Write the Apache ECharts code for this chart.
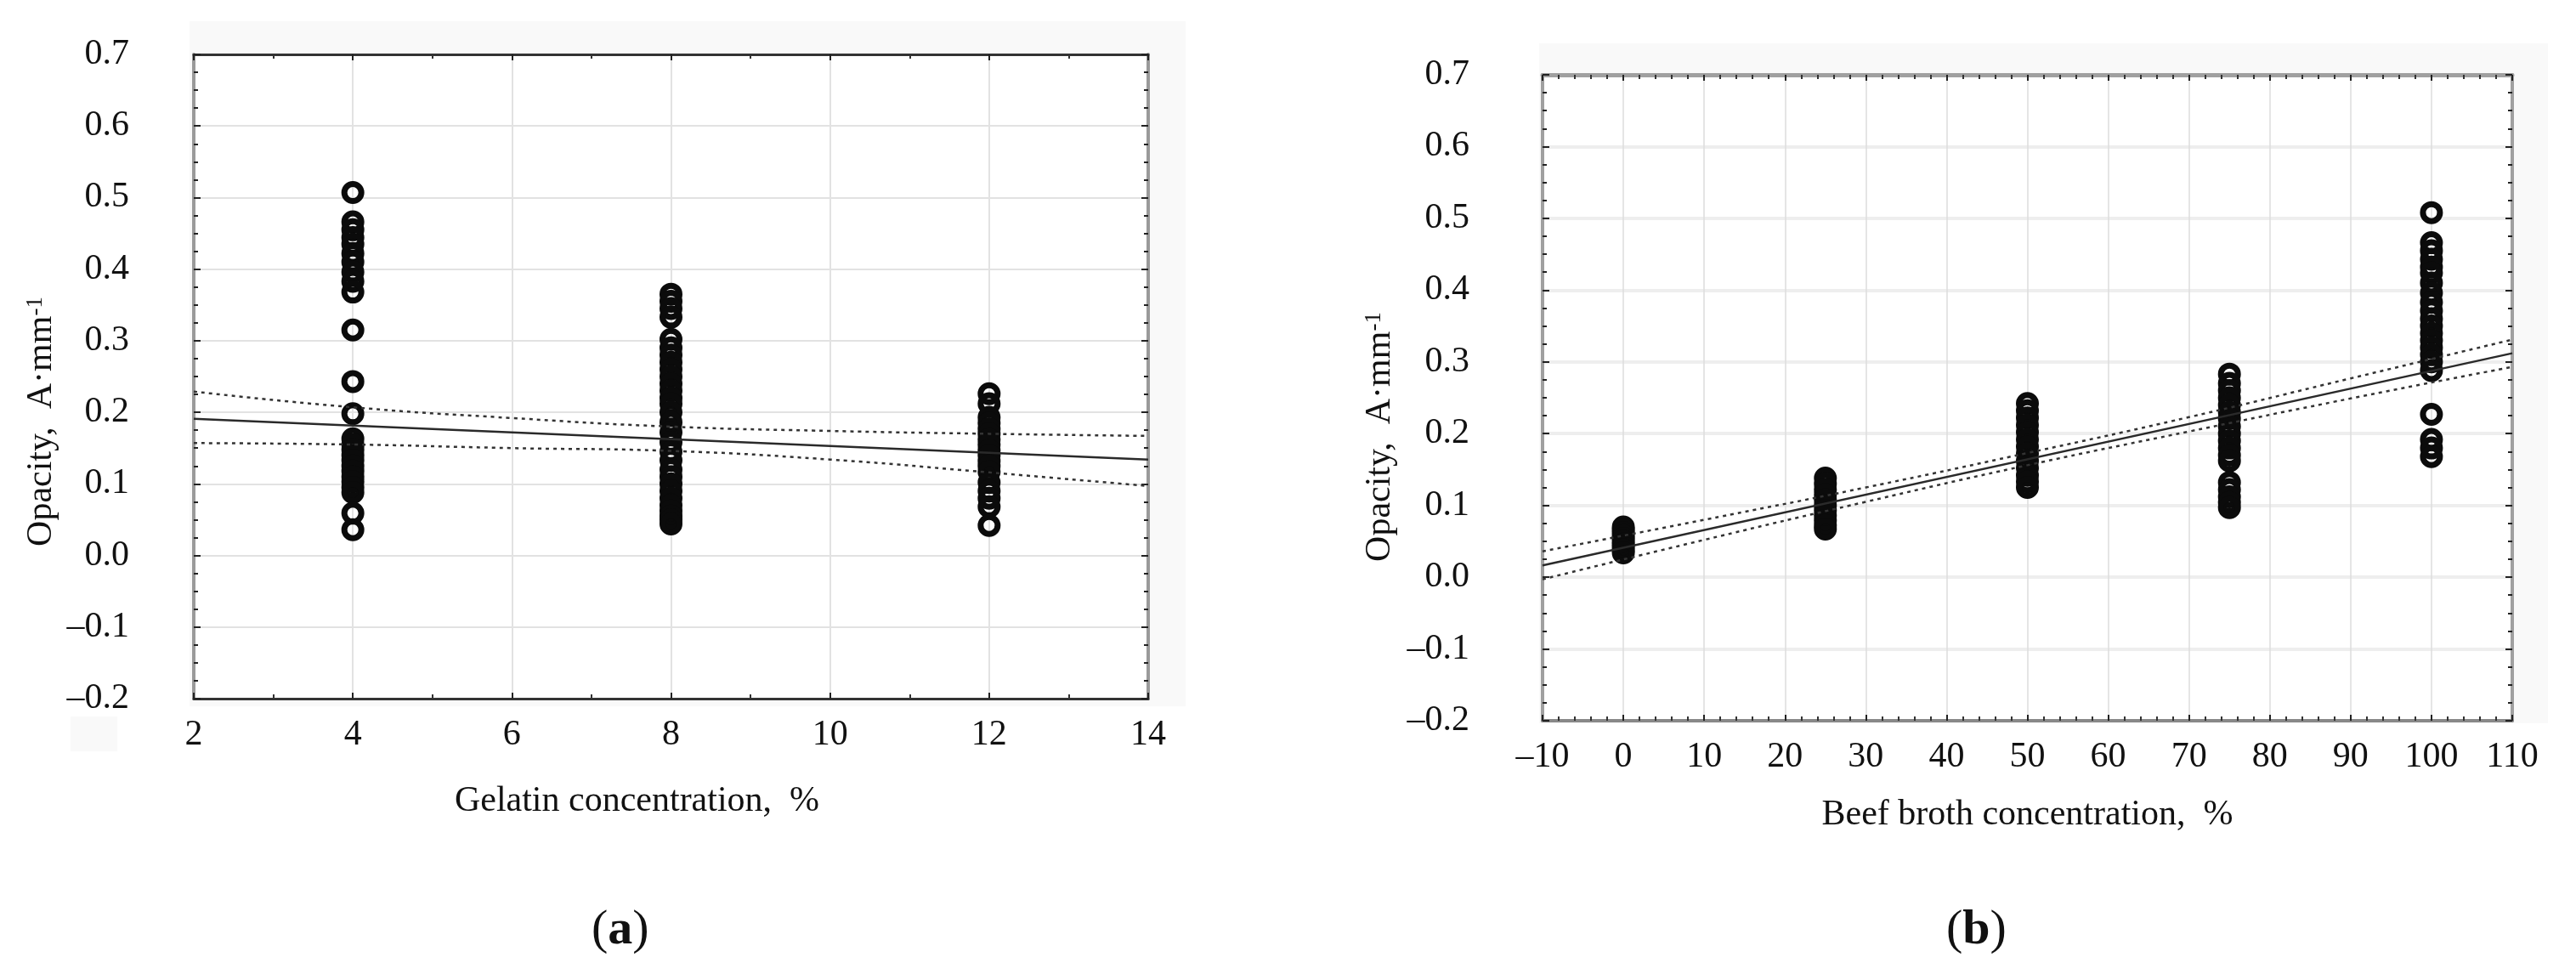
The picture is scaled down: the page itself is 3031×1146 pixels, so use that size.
<!DOCTYPE html>
<html>
<head>
<meta charset="utf-8">
<script src="https://cdn.jsdelivr.net/npm/echarts@6/dist/echarts.min.js"></script>
<style>
html,body{margin:0;padding:0;background:#fff;}
#chart{width:3031px;height:1146px;}
</style>
</head>
<body>
<div id="chart"></div>
<script>
// ---------- DATA ----------
// (a) Gelatin concentration, %  vs  Opacity
const gelatinLevels = [4, 8, 12];
const opacityGel4 = [0.507, 0.466, 0.455, 0.444, 0.435, 0.422, 0.41, 0.396, 0.383, 0.368, 0.315, 0.243, 0.198,
  0.163, 0.155, 0.148, 0.140, 0.133, 0.125, 0.118, 0.110, 0.103, 0.095, 0.088, 0.059, 0.036];
const opacityGel8 = [0.365, 0.355, 0.345, 0.333, 0.302, 0.29, 0.28, 0.27, 0.26, 0.25, 0.24, 0.23, 0.22, 0.212,
  0.2, 0.186, 0.172, 0.158, 0.145, 0.133, 0.12, 0.11, 0.1, 0.09, 0.08, 0.07, 0.062, 0.055, 0.05, 0.044];
const opacityGel12 = [0.226, 0.212, 0.193, 0.185, 0.177, 0.17, 0.162, 0.155, 0.147, 0.14, 0.132, 0.125, 0.117,
  0.102, 0.09, 0.08, 0.068, 0.042];
const gelFitX = [2, 14];
const gelFitY = [0.191, 0.134];
const gelBandX = [2, 4, 6, 8, 10, 12, 14];
const gelUpperY = [0.229, 0.207, 0.192, 0.180, 0.174, 0.170, 0.167];
const gelLowerY = [0.157, 0.155, 0.150, 0.146, 0.134, 0.116, 0.097];

// (b) Beef broth concentration, %  vs  Opacity
const brothLevels = [0, 25, 50, 75, 100];
const opacityBroth0 = [0.07, 0.066, 0.062, 0.058, 0.054, 0.05, 0.046, 0.042, 0.038, 0.034];
const opacityBroth25 = [0.138, 0.13, 0.122, 0.115, 0.108, 0.1, 0.093, 0.086, 0.079, 0.072, 0.067];
const opacityBroth50 = [0.242, 0.232, 0.222, 0.212, 0.202, 0.192, 0.182, 0.172, 0.162, 0.152, 0.142, 0.133, 0.125];
const opacityBroth75 = [0.283, 0.27, 0.26, 0.25, 0.24, 0.23, 0.221, 0.21, 0.2, 0.19, 0.18, 0.17, 0.162,
  0.132, 0.122, 0.112, 0.104, 0.097];
const opacityBroth100 = [0.508, 0.466, 0.455, 0.443, 0.432, 0.424, 0.41, 0.396, 0.383, 0.371, 0.36, 0.35, 0.34,
  0.33, 0.32, 0.31, 0.3, 0.288, 0.227, 0.192, 0.18, 0.168];
const brothFitX = [-10, 110];
const brothFitY = [0.0165, 0.312];
const brothBandX = [-10, 10, 30, 50, 70, 90, 110];
const brothUpperY = [0.036, 0.080, 0.125, 0.173, 0.223, 0.277, 0.331];
const brothLowerY = [-0.003, 0.052, 0.105, 0.156, 0.203, 0.249, 0.293];

// tick settings
const yTicks = {min: -0.2, max: 0.7, step: 0.1};
const gelTicks = {min: 2, max: 14, step: 2};
const brothTicks = {min: -10, max: 110, step: 10};

const yTitleRich = 'Opacity,  A·mm{sup|-1}';
const gelXTitle = 'Gelatin concentration,  %';
const brothXTitle = 'Beef broth concentration,  %';
const panelLabels = ['a', 'b'];

// ---------- helpers ----------
const FONT = 'Liberation Serif';
const dash = v => String(v).replace('-', '\u2013');
const pairs = (x, ys) => ys.map(v => [x, v]);
const zip = (xs, ys) => xs.map((x, i) => [x, ys[i]]);

const gelPoints = [].concat(
  pairs(gelatinLevels[0], opacityGel4),
  pairs(gelatinLevels[1], opacityGel8),
  pairs(gelatinLevels[2], opacityGel12));
const brothPoints = [].concat(
  pairs(brothLevels[0], opacityBroth0),
  pairs(brothLevels[1], opacityBroth25),
  pairs(brothLevels[2], opacityBroth50),
  pairs(brothLevels[3], opacityBroth75),
  pairs(brothLevels[4], opacityBroth100));

const labelStyle = {fontFamily: FONT, fontSize: 42, color: '#111'};

function xAxisPair(grid, t, o) {
  const common = {
    type: 'value', gridIndex: grid, min: t.min, max: t.max, interval: t.step,
  };
  return [
    Object.assign({}, common, {
      position: 'bottom',
      axisLine: {show: true, onZero: false, lineStyle: {color: o.bottomColor, width: o.bottomWidth}},
      axisTick: {show: true, inside: true, length: 7, lineStyle: {color: '#222', width: 2}},
      minorTick: {show: true, splitNumber: o.minor, length: 5, lineStyle: {color: '#333', width: 2}},
      splitLine: {show: true, lineStyle: {color: o.vGridColor, width: o.vGridWidth}},
      axisLabel: Object.assign({margin: 22, formatter: v => dash(v)}, labelStyle),
      name: o.name, nameLocation: 'middle', nameGap: o.nameGap,
      nameTextStyle: {fontFamily: FONT, fontSize: 42, color: '#111', padding: o.namePad}
    }),
    Object.assign({}, common, {
      position: 'top',
      axisLine: {show: true, onZero: false, lineStyle: {color: o.topColor, width: o.topWidth}},
      axisTick: {show: true, inside: true, length: 7, lineStyle: {color: '#222', width: 2}},
      minorTick: {show: true, splitNumber: o.minor, length: 5, lineStyle: {color: '#333', width: 2}},
      splitLine: {show: false},
      axisLabel: {show: false}
    })
  ];
}

function yAxisPair(grid, o) {
  const common = {
    type: 'value', gridIndex: grid, min: yTicks.min, max: yTicks.max, interval: yTicks.step,
  };
  return [
    Object.assign({}, common, {
      position: 'left',
      axisLine: {show: true, onZero: false, lineStyle: {color: o.sideColor, width: 4}},
      axisTick: {show: true, inside: true, length: 8, lineStyle: {color: '#222', width: 2}},
      minorTick: {show: true, splitNumber: 4, length: 5, lineStyle: {color: '#222', width: 2}},
      splitLine: {show: true, lineStyle: {color: o.hGridColor, width: o.hGridWidth}},
      axisLabel: Object.assign({margin: o.labelMargin, formatter: v => dash(v.toFixed(1))}, labelStyle),
      name: yTitleRich, nameLocation: 'middle', nameGap: o.nameGap, nameRotate: 90,
      nameTextStyle: {
        fontFamily: FONT, fontSize: 42, color: '#111', padding: o.namePad,
        rich: {sup: {fontFamily: FONT, fontSize: 27, color: '#111', verticalAlign: 'top', lineHeight: 20}}
      }
    }),
    Object.assign({}, common, {
      position: 'right',
      axisLine: {show: true, onZero: false, lineStyle: {color: o.sideColor, width: 4}},
      axisTick: {show: true, inside: true, length: 8, lineStyle: {color: '#222', width: 2}},
      minorTick: {show: true, splitNumber: 4, length: 5, lineStyle: {color: '#222', width: 2}},
      splitLine: {show: false},
      axisLabel: {show: false}
    })
  ];
}

const xAxes = [].concat(
  xAxisPair(0, gelTicks, {bottomColor: '#333', bottomWidth: 3, topColor: '#333', topWidth: 3, minor: 2,
    vGridColor: '#e2e2e2', vGridWidth: 2, name: gelXTitle, nameGap: 100, namePad: [0, 80, 0, 0]}),
  xAxisPair(1, brothTicks, {bottomColor: '#888', bottomWidth: 4, topColor: '#a0a0a0', topWidth: 5, minor: 5,
    vGridColor: '#dcdcdc', vGridWidth: 1.5, name: brothXTitle, nameGap: 90, namePad: [0, 0, 0, 0]})
);
const yAxes = [].concat(
  yAxisPair(0, {sideColor: '#9a9a9a', hGridColor: '#e2e2e2', hGridWidth: 2, labelMargin: 76, nameGap: 158, namePad: [0, 106, 0, 0]}),
  yAxisPair(1, {sideColor: '#a0a0a0', hGridColor: '#eeeeee', hGridWidth: 4, labelMargin: 86, nameGap: 170, namePad: [0, 92, 0, 0]})
);

const scatterStyle = {
  type: 'scatter', symbol: 'circle', symbolSize: 20, z: 3,
  itemStyle: {color: 'rgba(255,255,255,0)', borderColor: '#0b0b0b', borderWidth: 7, opacity: 1},
  emphasis: {disabled: true}
};
const fitStyle = {type: 'line', showSymbol: false, symbol: 'none', z: 4, lineStyle: {color: '#2a2a2a', width: 2.5}};
const bandStyle = {type: 'line', showSymbol: false, symbol: 'none', smooth: true, z: 4,
  lineStyle: {color: '#333', width: 2.5, type: [4, 5]}};

const series = [
  Object.assign({}, scatterStyle, {name: 'gelatin', xAxisIndex: 0, yAxisIndex: 0, data: gelPoints}),
  Object.assign({}, fitStyle, {name: 'gelFit', xAxisIndex: 0, yAxisIndex: 0, data: zip(gelFitX, gelFitY)}),
  Object.assign({}, bandStyle, {name: 'gelUp', xAxisIndex: 0, yAxisIndex: 0, data: zip(gelBandX, gelUpperY)}),
  Object.assign({}, bandStyle, {name: 'gelLo', xAxisIndex: 0, yAxisIndex: 0, data: zip(gelBandX, gelLowerY)}),
  Object.assign({}, scatterStyle, {name: 'broth', xAxisIndex: 2, yAxisIndex: 2, data: brothPoints}),
  Object.assign({}, fitStyle, {name: 'brothFit', xAxisIndex: 2, yAxisIndex: 2, data: zip(brothFitX, brothFitY)}),
  Object.assign({}, bandStyle, {name: 'brothUp', xAxisIndex: 2, yAxisIndex: 2, data: zip(brothBandX, brothUpperY)}),
  Object.assign({}, bandStyle, {name: 'brothLo', xAxisIndex: 2, yAxisIndex: 2, data: zip(brothBandX, brothLowerY)})
];

const chart = echarts.init(document.getElementById('chart'), null, {renderer: 'canvas'});
chart.setOption({
  animation: false,
  backgroundColor: '#ffffff',
  grid: [
    {left: 228, top: 64, width: 1123, height: 758, show: true, backgroundColor: '#ffffff', borderWidth: 0, containLabel: false},
    {left: 1815, top: 88, width: 1141, height: 760, show: true, backgroundColor: '#ffffff', borderWidth: 0, containLabel: false}
  ],
  xAxis: xAxes,
  yAxis: yAxes,
  series: series,
  graphic: [
    {type: 'rect', z: -10, shape: {x: 223, y: 25, width: 1172, height: 806}, style: {fill: '#f9f9f9'}},
    {type: 'rect', z: -10, shape: {x: 1811, y: 51, width: 1187, height: 800}, style: {fill: '#f9f9f9'}},
    {type: 'rect', z: -10, shape: {x: 83, y: 843, width: 55, height: 41}, style: {fill: '#f9f9f9'}},
    {type: 'text', left: 696, top: 1066, style: {
      text: '({b|' + panelLabels[0] + '})', fontFamily: FONT, fontSize: 58, fill: '#111',
      rich: {b: {fontFamily: FONT, fontSize: 58, fontWeight: 'bold', fill: '#111'}}}},
    {type: 'text', left: 2290, top: 1066, style: {
      text: '({b|' + panelLabels[1] + '})', fontFamily: FONT, fontSize: 58, fill: '#111',
      rich: {b: {fontFamily: FONT, fontSize: 58, fontWeight: 'bold', fill: '#111'}}}}
  ]
});
</script>
</body>
</html>
